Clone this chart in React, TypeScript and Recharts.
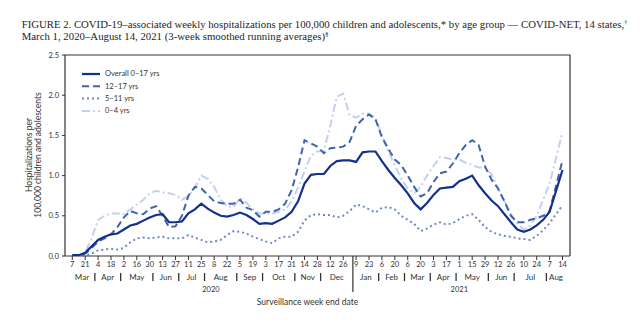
import React from 'react';
import { LineChart, Line, XAxis, YAxis } from 'recharts';

// weekly 3-week running averages, Mar 7 2020 .. Aug 7 2021, then Aug 14 2021
const overall = [
  0.01, 0.01, 0.04, 0.12, 0.2, 0.24, 0.27, 0.28, 0.33, 0.38,
  0.4, 0.44, 0.48, 0.51, 0.52, 0.42, 0.42, 0.43, 0.53, 0.58,
  0.65, 0.59, 0.54, 0.5, 0.49, 0.51, 0.54, 0.51, 0.46, 0.4,
  0.41, 0.4, 0.44, 0.48, 0.55, 0.68, 0.9, 1.01, 1.02, 1.02,
  1.12, 1.18, 1.19, 1.19, 1.17, 1.29, 1.3, 1.3, 1.18, 1.07,
  0.97, 0.88, 0.78, 0.66, 0.58, 0.66, 0.76, 0.84, 0.85, 0.86,
  0.93, 0.96, 1.0, 0.88, 0.78, 0.69, 0.62, 0.52, 0.42, 0.33,
  0.3, 0.33, 0.38, 0.45, 0.55, 1.07,
];
const ages12to17 = [
  0.0, 0.0, 0.03, 0.1, 0.18, 0.22, 0.27, 0.36, 0.48, 0.56,
  0.53, 0.52, 0.59, 0.62, 0.5, 0.36, 0.37, 0.5, 0.75, 0.86,
  0.84, 0.76, 0.68, 0.66, 0.65, 0.65, 0.7, 0.6, 0.57, 0.49,
  0.55, 0.55, 0.58, 0.65, 0.82, 1.1, 1.44, 1.4, 1.36, 1.28,
  1.34, 1.35, 1.36, 1.42, 1.62, 1.7, 1.76, 1.7, 1.48, 1.33,
  1.2, 1.13, 1.0, 0.86, 0.74, 0.78, 0.92, 1.03, 1.05, 1.15,
  1.28, 1.38, 1.44, 1.38, 1.11, 0.95, 0.84, 0.68, 0.5, 0.42,
  0.42, 0.45, 0.47, 0.5, 0.56, 1.19,
];
const ages5to11 = [
  0.0, 0.0, 0.01, 0.03, 0.07, 0.08, 0.09, 0.08, 0.1, 0.17,
  0.22, 0.23, 0.22, 0.23, 0.24, 0.22, 0.22, 0.22, 0.26, 0.23,
  0.2, 0.17, 0.18, 0.2, 0.26, 0.31, 0.3, 0.28, 0.24, 0.21,
  0.18, 0.16, 0.22, 0.24, 0.24, 0.3, 0.44, 0.51, 0.52, 0.51,
  0.51, 0.48, 0.5, 0.56, 0.64, 0.62, 0.58, 0.54, 0.6, 0.61,
  0.58, 0.5, 0.45, 0.4, 0.31, 0.34, 0.39, 0.42, 0.39, 0.41,
  0.46, 0.5, 0.52, 0.45, 0.36, 0.3, 0.27, 0.25, 0.24, 0.22,
  0.21, 0.2, 0.25, 0.32, 0.41, 0.63,
];
const ages0to4 = [
  0.0, 0.0, 0.05, 0.22, 0.45, 0.5, 0.53, 0.53, 0.52, 0.58,
  0.64, 0.7, 0.78, 0.81, 0.79, 0.78, 0.76, 0.7, 0.74, 0.85,
  1.0, 0.96, 0.86, 0.7, 0.62, 0.61, 0.72, 0.66, 0.58, 0.53,
  0.53, 0.53, 0.55, 0.58, 0.68, 0.85, 1.05, 1.25, 1.3, 1.31,
  1.62, 1.98, 2.02, 1.75, 1.72, 1.77, 1.77, 1.72, 1.5, 1.3,
  1.13, 0.96, 0.84, 0.78, 0.86, 1.0, 1.12, 1.23, 1.22, 1.2,
  1.2, 1.16, 1.13, 1.1, 1.1, 1.02, 0.84, 0.68, 0.52, 0.4,
  0.33, 0.38, 0.5, 0.7, 0.9, 1.54,
];

const dateLabels2020 = ['7', '21', '4', '18', '2', '16', '30', '13', '27', '11', '25', '8', '22', '5', '19', '3', '17', '31', '14', '28', '12', '26'];
const dateLabels2021 = ['9', '23', '6', '20', '6', '20', '3', '17', '1', '15', '29', '12', '26', '10', '24', '7', '14'];

// MMWR months (Jan 2, 2021 belongs to 2020's week 53)
const monthNames2020 = ['Mar', 'Apr', 'May', 'Jun', 'Jul', 'Aug', 'Sep', 'Oct', 'Nov', 'Dec'];
const monthWeeks2020 = [4, 4, 5, 4, 4, 5, 4, 5, 4, 5];
const monthNames2021 = ['Jan', 'Feb', 'Mar', 'Apr', 'May', 'Jun', 'Jul', 'Aug'];
const monthWeeks2021 = [4, 4, 4, 4, 5, 4, 5, 2];

const yTicks = [0, 0.5, 1, 1.5, 2, 2.5];

const series = [
  { key: 'young', name: '0–4 yrs', color: '#c6d0ec', dash: '8 3 2 3', width: 2 },
  { key: 'child', name: '5–11 yrs', color: '#6e88ca', dash: '2 3', width: 2 },
  { key: 'teen', name: '12–17 yrs', color: '#4262b1', dash: '7 4', width: 2 },
  { key: 'overall', name: 'Overall 0–17 yrs', color: '#13308e', dash: undefined, width: 2.2 },
];

const lastWeek = overall.length - 1;
// the source figure draws its final week (Aug 14) one slot further right
const slotOf = (i: number) => (i === lastWeek ? i + 1 : i);

const data = overall.map((v, i) => ({
  slot: slotOf(i),
  overall: v,
  teen: ages12to17[i],
  child: ages5to11[i],
  young: ages0to4[i],
}));

const weeks2020 = monthWeeks2020.reduce((a, b) => a + b, 0);

const dateTicks = [
  ...dateLabels2020.map((label, k) => ({ pos: slotOf(2 * k), label })),
  ...dateLabels2021.map((label, k) => ({ pos: slotOf(Math.min(weeks2020 + 2 * k, lastWeek)), label })),
];

function monthSpans(names: string[], weeks: number[], start: number) {
  let w = start;
  return names.map((name, k) => {
    const first = slotOf(w);
    const last = slotOf(w + weeks[k] - 1);
    w += weeks[k];
    return { name, first, last };
  });
}
const spans2020 = monthSpans(monthNames2020, monthWeeks2020, 0);
const spans2021 = monthSpans(monthNames2021, monthWeeks2021, weeks2020);

const monthTicks: { pos: number; label: string }[] = [];
[spans2020, spans2021].forEach((spans) => {
  spans.forEach((s, k) => {
    monthTicks.push({ pos: (s.first + s.last) / 2, label: s.name });
    if (k > 0) monthTicks.push({ pos: (spans[k - 1].last + s.first) / 2, label: '|' });
  });
});

const yearTicks = [
  { pos: (spans2020[0].first + spans2020[spans2020.length - 1].last) / 2, label: '2020' },
  { pos: (spans2020[spans2020.length - 1].last + spans2021[0].first) / 2, label: 'sep' },
  { pos: (spans2021[0].first + spans2021[spans2021.length - 1].last) / 2, label: '2021' },
];

const xDomain = [-1.13, 77.16];
const yMax = 2.5;
const sans = 'Lato, "Open Sans", sans-serif';
const serif = '"Liberation Serif", serif';
const ink = '#333';

// plot box inside the 640x333 chart
const plot = { left: 65, top: 55, right: 570, bottom: 256 };

const find = (list: { pos: number; label: string }[], v: number) =>
  (list.find((t) => Math.abs(t.pos - v) < 0.01) || { label: '' }).label;

const DateTick = (props: any) => {
  const { x, y, payload } = props;
  return (
    <text x={x} y={y} dy="0.71em" textAnchor="middle" fontSize={7.5} fontFamily={sans} fill={ink}>
      {find(dateTicks, payload.value)}
    </text>
  );
};

const MonthTick = (props: any) => {
  const { x, y, payload } = props;
  const label = find(monthTicks, payload.value);
  if (label === '|') {
    return <line x1={x} x2={x} y1={y - 1} y2={y + 7} stroke={ink} strokeWidth={1.3} />;
  }
  return (
    <text x={x} y={y} dy="0.71em" textAnchor="middle" fontSize={8} fontFamily={sans} fill={ink}>
      {label}
    </text>
  );
};

const YearTick = (props: any) => {
  const { x, y, payload } = props;
  const label = find(yearTicks, payload.value);
  if (label === 'sep') {
    return <line x1={x} x2={x} y1={y - 31} y2={y + 5} stroke={ink} strokeWidth={1.2} />;
  }
  return (
    <text x={x} y={y} dy="0.71em" textAnchor="middle" fontSize={7.5} fontFamily={sans} fill={ink}>
      {label}
    </text>
  );
};

const legendOrder = ['overall', 'teen', 'child', 'young'];

const LegendBox = ({ x, y }: { x: number; y: number }) => (
  <g transform={`translate(${x},${y})`}>
    {legendOrder.map((key, i) => {
      const s = series.find((d) => d.key === key)!;
      const ry = i * 12.3;
      return (
        <g key={key}>
          <line x1={0} x2={18} y1={ry} y2={ry} stroke={s.color} strokeWidth={s.width} strokeDasharray={s.dash} />
          <text x={23} y={ry} dy="0.33em" fontSize={7.5} fontFamily={sans} fill={ink}>
            {s.name}
          </text>
        </g>
      );
    })}
  </g>
);

export default function App() {
  return (
    <div style={{ position: 'absolute', left: 0, top: 0, width: 640, height: 333, background: '#fff', overflow: 'hidden' }}>
      <LineChart width={640} height={333} data={data} margin={{ top: plot.top, right: 640 - plot.right, bottom: 28, left: 0 }}>
        <XAxis
          xAxisId="date"
          dataKey="slot"
          type="number"
          domain={xDomain}
          allowDataOverflow
          ticks={dateTicks.map((t) => t.pos)}
          interval={0}
          height={14}
          tickSize={4}
          tickMargin={2}
          tick={<DateTick />}
          tickLine={{ stroke: ink }}
          axisLine={{ stroke: ink, strokeWidth: 1.2 }}
        />
        <XAxis
          xAxisId="month"
          dataKey="slot"
          type="number"
          domain={xDomain}
          ticks={monthTicks.map((t) => t.pos)}
          interval={0}
          height={13}
          tickSize={2}
          tickMargin={2}
          tick={<MonthTick />}
          tickLine={false}
          axisLine={false}
        />
        <XAxis
          xAxisId="year"
          dataKey="slot"
          type="number"
          domain={xDomain}
          ticks={yearTicks.map((t) => t.pos)}
          interval={0}
          height={22}
          tickSize={2}
          tickMargin={2}
          tick={<YearTick />}
          tickLine={false}
          axisLine={false}
        />
        <YAxis
          yAxisId="left"
          domain={[0, yMax]}
          allowDataOverflow
          ticks={yTicks}
          interval={0}
          width={plot.left}
          tickSize={3}
          tickMargin={3}
          tickFormatter={(v: number) => v.toFixed(1)}
          tick={{ fontSize: 7.5, fontFamily: sans, fill: ink }}
          tickLine={{ stroke: ink }}
          axisLine={{ stroke: ink, strokeWidth: 1.2 }}
        />
        {series.map((s) => (
          <Line
            key={s.key}
            xAxisId="date"
            yAxisId="left"
            dataKey={s.key}
            name={s.name}
            type="linear"
            stroke={s.color}
            strokeWidth={s.width}
            strokeDasharray={s.dash}
            dot={false}
            activeDot={false}
            isAnimationActive={false}
          />
        ))}
      </LineChart>
      <svg width={640} height={333} style={{ position: 'absolute', left: 0, top: 0, pointerEvents: 'none' }}>
        {/* top and right edges of the plot frame */}
        <path d={`M${plot.left} ${plot.top} H${plot.right} V${plot.bottom}`} stroke={ink} strokeWidth={1.2} fill="none" />
        <LegendBox x={82} y={74} />
        <text x={21.7} y={28} fontSize={10.5} fontFamily={serif} fill="#1e1e1e" textLength={606} lengthAdjust="spacingAndGlyphs">
          FIGURE 2. COVID-19–associated weekly hospitalizations per 100,000 children and adolescents,* by age group — COVID-NET, 14 states,
          <tspan fontSize={7} dy={-4}>†</tspan>
        </text>
        <text x={21.7} y={40} fontSize={10.5} fontFamily={serif} fill="#1e1e1e" textLength={307} lengthAdjust="spacingAndGlyphs">
          March 1, 2020–August 14, 2021 (3-week smoothed running averages)
          <tspan fontSize={7} dy={-4}>§</tspan>
        </text>
        <g transform="translate(32,155) rotate(-90)">
          <text x={0} y={0} textAnchor="middle" fontSize={8.5} fontFamily={sans} fill={ink}>Hospitalizations per</text>
        </g>
        <g transform="translate(41,155) rotate(-90)">
          <text x={0} y={0} textAnchor="middle" fontSize={8.5} fontFamily={sans} fill={ink}>100,000 children and adolescents</text>
        </g>
        <text x={307.5} y={305} textAnchor="middle" fontSize={8.5} fontFamily={sans} fill={ink}>Surveillance week end date</text>
      </svg>
    </div>
  );
}
